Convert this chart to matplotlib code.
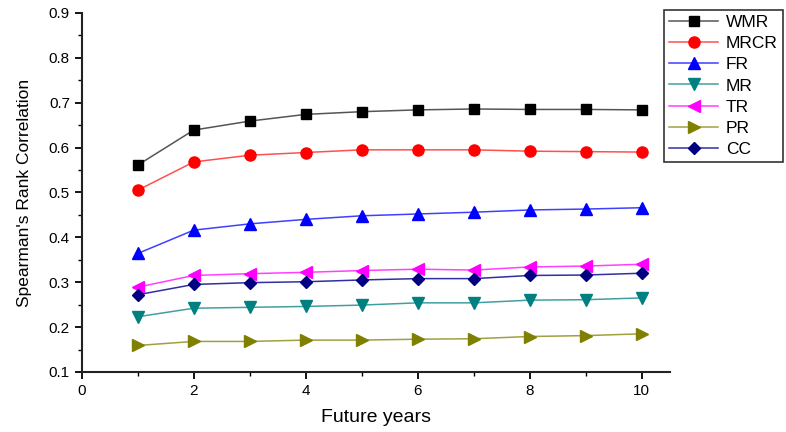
import numpy as np
import matplotlib
matplotlib.use('Agg')
import matplotlib.pyplot as plt
from matplotlib.ticker import MultipleLocator

plt.rcParams['font.family'] = ['Liberation Sans', 'DejaVu Sans']

# %% Data
years = [1, 2, 3, 4, 5, 6, 7, 8, 9, 10]
wmr = [0.561, 0.639, 0.659, 0.674, 0.680, 0.684, 0.686, 0.685, 0.685, 0.684]
mrcr = [0.505, 0.568, 0.583, 0.589, 0.595, 0.595, 0.595, 0.592, 0.591, 0.590]
fr = [0.364, 0.416, 0.430, 0.440, 0.448, 0.452, 0.456, 0.461, 0.463, 0.466]
mr = [0.223, 0.242, 0.244, 0.246, 0.249, 0.254, 0.254, 0.260, 0.261, 0.265]
tr = [0.289, 0.315, 0.319, 0.322, 0.326, 0.329, 0.327, 0.334, 0.336, 0.340]
pr = [0.159, 0.168, 0.168, 0.171, 0.171, 0.173, 0.174, 0.179, 0.181, 0.185]
cc = [0.272, 0.295, 0.299, 0.301, 0.305, 0.308, 0.308, 0.315, 0.316, 0.320]

series = [
    ('WMR', wmr, '#555555', '#000000', 's', 7),
    ('MRCR', mrcr, '#ff5050', '#ff0000', 'o', 8),
    ('FR', fr, '#4040ff', '#0000ff', '^', 8),
    ('MR', mr, '#40a0a0', '#008080', 'v', 8),
    ('TR', tr, '#ff40ff', '#ff00ff', '<', 8),
    ('PR', pr, '#a0a040', '#808000', '>', 8),
    ('CC', cc, '#3030a0', '#000080', 'D', 6),
]

# %% Plot
fig = plt.figure(figsize=(7.86, 4.32), dpi=100)
ax = fig.add_axes([0.104, 0.139, 0.748, 0.831])

for name, vals, lc, mc, mk, ms in series:
    ax.plot(years, vals, color=lc, lw=1.1, marker=mk, markersize=ms,
            markerfacecolor=mc, markeredgecolor=mc, label=name)

ax.set_xlim(0, 10.5)
ax.set_ylim(0.1, 0.9)
ax.xaxis.set_major_locator(MultipleLocator(2))
ax.xaxis.set_minor_locator(MultipleLocator(1))
ax.yaxis.set_major_locator(MultipleLocator(0.1))
ax.yaxis.set_minor_locator(MultipleLocator(0.05))
ax.yaxis.set_major_formatter(plt.FuncFormatter(lambda v, p: '%.1f' % v))

for s in ['top', 'right']:
    ax.spines[s].set_visible(False)
for s in ['left', 'bottom']:
    ax.spines[s].set_linewidth(1.5)
    ax.spines[s].set_color('#222222')

ax.tick_params(which='major', direction='out', length=5, width=1.3, labelsize=11)
ax.tick_params(which='minor', direction='out', length=3, width=1.0)

ax.set_xlabel('Future years', fontsize=14, labelpad=8)
ax.set_ylabel("Spearman's Rank Correlation", fontsize=12.5, labelpad=12)

leg = ax.legend(loc='upper left', bbox_to_anchor=(0.845, 0.978),
                bbox_transform=fig.transFigure, fontsize=12.5,
                fancybox=False, edgecolor='#333333', handlelength=2.8,
                labelspacing=0.35, borderpad=0.3, handletextpad=0.45,
                borderaxespad=0, framealpha=1)
leg.get_frame().set_linewidth(1.2)

fig.savefig('out.png', dpi=100)
